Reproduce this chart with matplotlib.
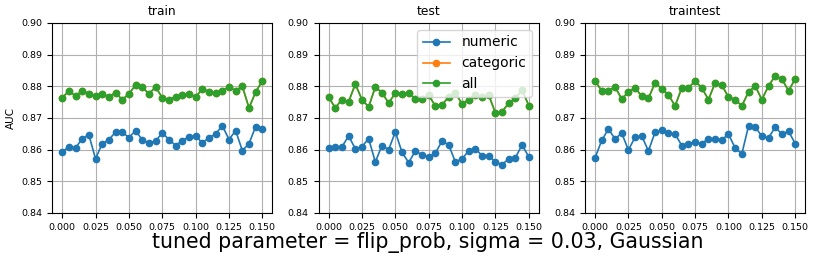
import numpy as np
import matplotlib
matplotlib.use('Agg')
import matplotlib.pyplot as plt

# flip_prob values on the x axis
flip_prob = [round(0.005 * i, 3) for i in range(31)]

# AUC values
train_numeric = [0.8593, 0.8609, 0.8605, 0.8635, 0.8647, 0.8571, 0.8619, 0.8631, 0.8656, 0.8656,
                 0.8638, 0.8660, 0.8631, 0.8621, 0.8627, 0.8653, 0.8632, 0.8613, 0.8628, 0.8641,
                 0.8644, 0.8621, 0.8638, 0.8649, 0.8676, 0.8632, 0.8660, 0.8597, 0.8619, 0.8673,
                 0.8666]
train_all = [0.8763, 0.8786, 0.8769, 0.8786, 0.8777, 0.8769, 0.8776, 0.8767, 0.8780, 0.8758,
             0.8776, 0.8804, 0.8798, 0.8776, 0.8798, 0.8764, 0.8758, 0.8767, 0.8771, 0.8776,
             0.8766, 0.8792, 0.8783, 0.8779, 0.8786, 0.8798, 0.8786, 0.8800, 0.8732, 0.8782,
             0.8817]
test_numeric = [0.8605, 0.8609, 0.8609, 0.8643, 0.8603, 0.8609, 0.8635, 0.8561, 0.8613, 0.8600,
                0.8656, 0.8592, 0.8559, 0.8596, 0.8584, 0.8577, 0.8589, 0.8627, 0.8615, 0.8561,
                0.8571, 0.8596, 0.8603, 0.8581, 0.8581, 0.8561, 0.8553, 0.8571, 0.8575, 0.8615,
                0.8577]
test_all = [0.8766, 0.8732, 0.8758, 0.8751, 0.8807, 0.8758, 0.8735, 0.8798, 0.8780, 0.8747,
            0.8779, 0.8777, 0.8779, 0.8761, 0.8761, 0.8772, 0.8738, 0.8741, 0.8767, 0.8779,
            0.8744, 0.8758, 0.8773, 0.8766, 0.8772, 0.8716, 0.8720, 0.8747, 0.8762, 0.8788,
            0.8739]
traintest_numeric = [0.8574, 0.8629, 0.8665, 0.8634, 0.8652, 0.8599, 0.8639, 0.8643, 0.8596, 0.8655,
                     0.8662, 0.8652, 0.8649, 0.8613, 0.8619, 0.8624, 0.8619, 0.8635, 0.8635, 0.8631,
                     0.8649, 0.8605, 0.8587, 0.8674, 0.8671, 0.8643, 0.8637, 0.8671, 0.8649, 0.8658,
                     0.8619]
traintest_all = [0.8817, 0.8786, 0.8786, 0.8798, 0.8760, 0.8782, 0.8795, 0.8769, 0.8762, 0.8811,
                 0.8792, 0.8773, 0.8738, 0.8795, 0.8795, 0.8817, 0.8795, 0.8758, 0.8811, 0.8804,
                 0.8766, 0.8758, 0.8738, 0.8782, 0.8801, 0.8758, 0.8801, 0.8833, 0.8823, 0.8786,
                 0.8823]
# categoric is hidden under "all" in every panel
train_categoric = train_all
test_categoric = test_all
traintest_categoric = traintest_all

panels = ['train', 'test', 'traintest']
results = {
    'train': (train_numeric, train_categoric, train_all),
    'test': (test_numeric, test_categoric, test_all),
    'traintest': (traintest_numeric, traintest_categoric, traintest_all),
}

fig, axes = plt.subplots(1, 3, figsize=(8.15, 2.61), dpi=100)
fig.subplots_adjust(left=0.064, right=0.988, top=0.912, bottom=0.184, wspace=0.21)

for ax, name in zip(axes, panels):
    numeric, categoric, all_ = results[name]
    ax.plot(flip_prob, numeric, 'o-', ms=4.5, lw=1.2, label='numeric')
    ax.plot(flip_prob, categoric, 'o-', ms=4.5, lw=1.2, label='categoric')
    ax.plot(flip_prob, all_, 'o-', ms=4.5, lw=1.2, label='all')
    ax.set_title(name, fontsize=8.8)
    ax.set_ylim(0.84, 0.90)
    ax.set_xticks([0.0, 0.025, 0.05, 0.075, 0.1, 0.125, 0.15])
    ax.xaxis.set_major_formatter(matplotlib.ticker.FormatStrFormatter('%.3f'))
    ax.yaxis.set_major_formatter(matplotlib.ticker.FormatStrFormatter('%.2f'))
    ax.tick_params(labelsize=6.8)
    ax.grid(True)

axes[0].set_ylabel('AUC', fontsize=7.5)
axes[1].legend(loc='upper right', fontsize=10)
fig.suptitle('tuned parameter = flip_prob, sigma = 0.03, Gaussian', x=0.525, y=0.03, va='bottom', fontsize=14.8)

plt.savefig('out.png', dpi=100)
